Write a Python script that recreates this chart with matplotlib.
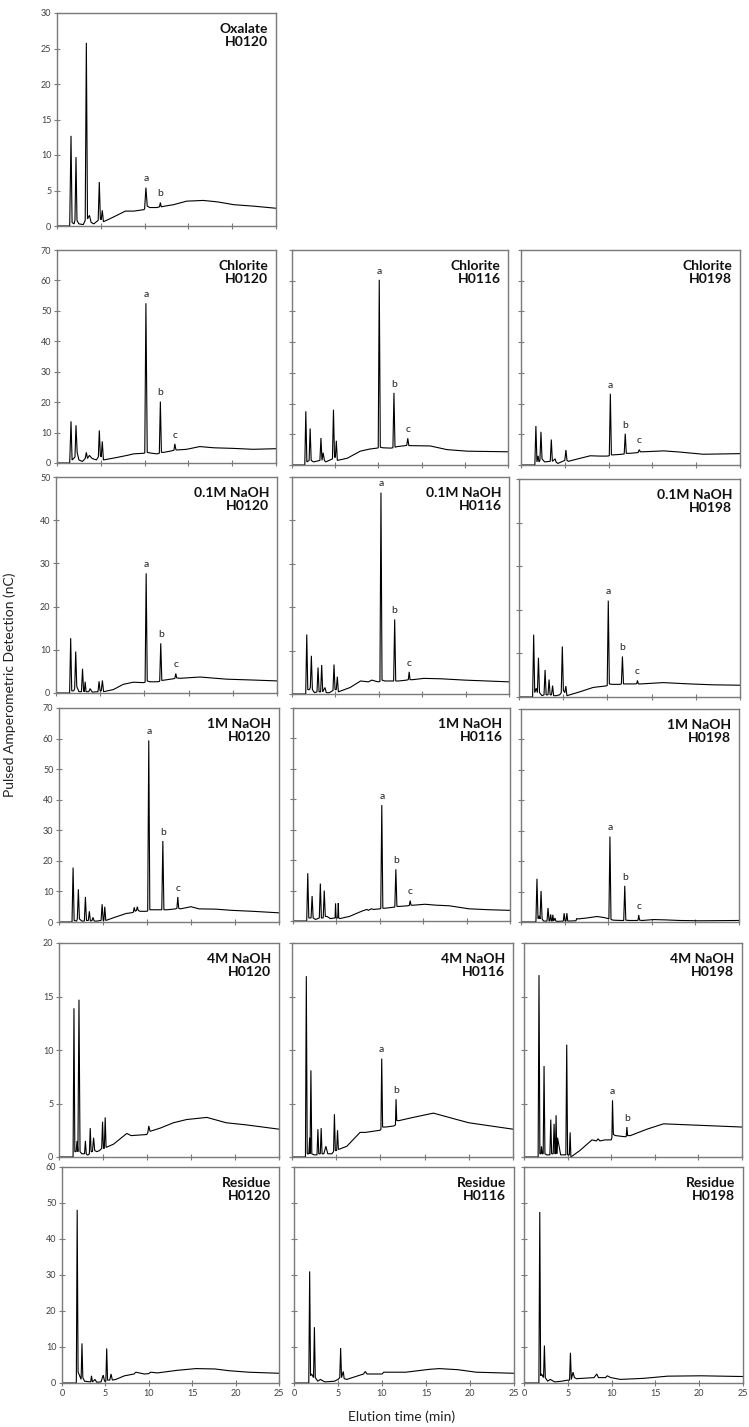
import matplotlib
matplotlib.use("Agg")
import matplotlib.pyplot as plt
import numpy as np

plt.rcParams['font.family'] = ['Lato', 'DejaVu Sans']

# ---------------- data (elution time, min / signal, nC) ----------------
ox_h0120_t = [0, 1.45, 1.6, 1.72, 1.95, 2.05, 2.17, 2.28, 2.5, 3.0, 3.22, 3.35, 3.48, 3.7, 3.9, 4.2, 4.7, 4.83, 4.95, 5.05,
              5.17, 5.3, 6.0, 7.0, 7.8, 8.8, 9.9, 10.0, 10.15, 10.3, 10.6, 11.4, 11.7, 11.8, 11.9, 12.3, 13.3, 14.8, 16.7, 18.3,
              20.2, 22.4, 25]
ox_h0120_y = [0, 0, 12.7, 0.5, 0.3, 0.8, 9.7, 0.8, 0.3, 0.2, 0.8, 25.8, 1.0, 1.5, 0.5, 0.3, 0.8, 6.2, 1.0, 0.9,
              2.2, 0.6, 1.0, 1.6, 2.1, 2.1, 2.3, 2.4, 5.4, 2.8, 2.6, 2.6, 2.7, 3.3, 2.7, 2.8, 3.0, 3.5, 3.6, 3.4,
              3.0, 2.8, 2.5]

cl_h0120_t = [0, 1.45, 1.6, 1.72, 1.9, 2.05, 2.17, 2.3, 2.5, 2.9, 3.22, 3.35, 3.48, 3.7, 4.0, 4.5, 4.72, 4.83, 4.95, 5.05,
              5.17, 5.3, 6.8, 8.0, 8.75, 9.9, 10.02, 10.15, 10.3, 10.6, 11.4, 11.68, 11.8, 11.92, 12.2, 13.1, 13.35, 13.45, 13.58, 13.8,
              14.8, 16.3, 17.9, 20.15, 22.4, 25]
cl_h0120_y = [0, 0, 13.7, 1.0, 1.5, 2.0, 12.4, 3.5, 1.0, 0.5, 1.5, 3.5, 1.5, 2.5, 1.5, 1.0, 2.0, 10.7, 2.5, 2.0,
              7.1, 1.0, 1.8, 2.5, 3.0, 3.2, 3.3, 52.5, 3.5, 3.3, 3.0, 3.2, 20.2, 3.5, 3.5, 4.0, 4.2, 6.3, 4.3, 4.3,
              4.5, 5.4, 5.0, 4.8, 4.5, 4.7]

cl_h0116_t = [0, 1.48, 1.6, 1.72, 1.98, 2.1, 2.22, 2.5, 3.23, 3.35, 3.47, 3.6, 3.75, 3.9, 4.3, 4.68, 4.8, 4.92, 5.02, 5.13,
              5.25, 6.4, 7.9, 9.0, 9.85, 9.98, 10.1, 10.22, 10.5, 11.4, 11.68, 11.8, 11.92, 12.2, 13.1, 13.28, 13.4, 13.52, 13.8, 16.0,
              17.95, 20.3, 25]
cl_h0116_y = [0, 0, 17.5, 1.0, 1.5, 11.9, 1.5, 1.0, 1.5, 8.8, 1.5, 4.0, 1.5, 1.0, 1.5, 2.0, 18.0, 2.5, 2.5, 7.9,
              1.5, 2.2, 4.5, 5.2, 5.5, 5.6, 60.3, 5.8, 5.6, 5.5, 5.6, 23.5, 5.8, 6.0, 6.3, 6.4, 8.7, 6.3, 6.3, 6.2,
              5.0, 4.5, 4.3]

cl_h0198_t = [0, 1.58, 1.7, 1.82, 1.95, 2.05, 2.16, 2.28, 2.4, 2.7, 3.34, 3.46, 3.58, 3.9, 4.0, 4.2, 4.6, 5.0, 5.13, 5.25,
              5.4, 6.5, 7.9, 9.0, 9.8, 10.08, 10.2, 10.32, 10.6, 11.5, 11.78, 11.9, 12.02, 12.4, 13.2, 13.38, 13.5, 13.62, 13.9, 16.3,
              18.2, 20.8, 25]
cl_h0198_y = [0, 0, 12.7, 1.0, 3.0, 1.0, 1.5, 10.8, 2.0, 1.0, 1.2, 8.3, 1.2, 2.0, 1.0, 0.5, 1.0, 1.5, 4.9, 1.5,
              1.2, 2.0, 3.0, 2.9, 2.9, 3.0, 23.2, 3.3, 3.3, 3.5, 3.6, 10.2, 3.8, 3.8, 4.0, 4.1, 5.0, 4.3, 4.3, 4.6,
              4.2, 3.5, 3.7]

n01_h0120_t = [0, 1.54, 1.66, 1.78, 2.0, 2.11, 2.23, 2.35, 2.6, 2.88, 3.0, 3.12, 3.2, 3.3, 3.4, 3.7, 3.86, 4.1, 4.75, 4.87,
               4.99, 5.12, 5.25, 5.38, 6.5, 7.6, 8.75, 9.9, 10.08, 10.2, 10.32, 10.6, 11.5, 11.73, 11.85, 11.97, 12.3, 13.3, 13.45, 13.55,
               13.65, 14.0, 16.3, 19.3, 22.3, 25]
n01_h0120_y = [0, 0, 12.7, 0.5, 0.5, 1.0, 9.6, 1.5, 0.3, 0.3, 5.6, 0.5, 0.3, 2.6, 0.3, 0.3, 1.0, 0.2, 0.3, 2.7,
               0.5, 0.5, 2.9, 0.3, 0.8, 2.0, 2.5, 2.4, 2.5, 27.7, 2.8, 2.6, 2.6, 2.7, 11.5, 2.9, 3.0, 3.3, 3.4, 4.5,
               3.5, 3.4, 3.7, 3.2, 3.0, 2.8]

n01_h0116_t = [0, 1.58, 1.7, 1.82, 2.0, 2.11, 2.23, 2.35, 2.6, 2.88, 3.0, 3.12, 3.3, 3.42, 3.54, 3.8, 3.95, 4.3, 4.72, 4.84,
               4.96, 5.1, 5.22, 5.34, 6.7, 7.9, 8.8, 9.2, 9.9, 10.13, 10.25, 10.37, 10.7, 11.5, 11.71, 11.83, 11.95, 12.3, 13.2, 13.4,
               13.5, 13.6, 13.9, 15.2, 17.2, 19.9, 25]
n01_h0116_y = [0, 0, 13.7, 1.0, 1.0, 1.5, 8.8, 1.0, 0.3, 0.5, 6.1, 0.5, 0.5, 6.7, 0.5, 1.5, 0.3, 0.3, 0.8, 6.8,
               1.0, 1.0, 4.0, 0.5, 1.5, 3.0, 2.8, 3.2, 2.8, 2.9, 46.4, 3.2, 3.0, 3.0, 3.0, 17.2, 3.0, 3.0, 3.2, 3.3,
               5.1, 3.3, 3.3, 3.6, 3.5, 3.2, 2.8]

n01_h0198_t = [0, 1.54, 1.66, 1.78, 1.95, 2.08, 2.2, 2.32, 2.6, 2.83, 2.95, 3.07, 3.28, 3.4, 3.52, 3.68, 3.8, 3.92, 4.2, 4.6,
               4.78, 4.9, 5.02, 5.18, 5.3, 5.42, 6.9, 8.4, 9.7, 9.98, 10.1, 10.22, 10.5, 11.4, 11.58, 11.7, 11.82, 12.2, 13.2, 13.32,
               13.4, 13.5, 13.8, 16.3, 19.3, 21.9, 25]
n01_h0198_y = [0, 0, 14.3, 1.0, 2.0, 1.0, 9.0, 1.0, 0.3, 0.5, 6.2, 0.5, 0.5, 4.0, 0.5, 0.5, 2.6, 0.3, 0.3, 0.5,
               1.0, 11.6, 1.5, 1.0, 2.5, 0.3, 1.2, 2.2, 2.5, 2.6, 22.1, 3.0, 2.9, 2.9, 3.0, 9.3, 3.0, 3.0, 3.0, 3.1,
               3.8, 3.0, 3.0, 3.3, 3.0, 2.8, 2.7]

n1_h0120_t = [0, 1.48, 1.6, 1.72, 2.0, 2.08, 2.2, 2.32, 2.6, 2.88, 3.0, 3.12, 3.33, 3.45, 3.57, 3.75, 3.86, 4.0, 4.3, 4.78,
              4.9, 5.02, 5.1, 5.2, 5.32, 6.3, 7.65, 8.2, 8.45, 8.55, 8.65, 8.8, 8.9, 9.0, 9.2, 9.9, 10.08, 10.2, 10.32, 10.6,
              11.5, 11.68, 11.8, 11.92, 12.3, 13.25, 13.4, 13.5, 13.6, 13.8, 15.0, 15.9, 17.8, 19.7, 22.0, 25]
n1_h0120_y = [0, 0, 17.8, 0.5, 0.3, 1.0, 10.7, 1.0, 0.3, 0.3, 8.2, 0.5, 0.5, 3.5, 0.3, 0.5, 1.5, 0.3, 0.3, 0.5,
              5.8, 0.5, 0.5, 5.0, 0.5, 1.5, 2.8, 3.0, 3.2, 4.8, 3.5, 3.8, 5.0, 3.8, 3.5, 3.5, 3.6, 59.4, 4.0, 4.0,
              4.0, 4.0, 26.5, 4.0, 4.0, 4.3, 4.5, 8.2, 4.5, 4.3, 5.0, 4.3, 4.2, 3.8, 3.5, 3.0]

n1_h0116_t = [0, 1.58, 1.7, 1.82, 2.08, 2.2, 2.32, 2.6, 3.03, 3.15, 3.27, 3.48, 3.6, 3.72, 3.9, 4.3, 4.85, 4.9, 4.97, 5.15,
              5.22, 5.27, 5.4, 6.5, 7.9, 8.5, 8.7, 9.0, 9.3, 10.0, 10.11, 10.23, 10.35, 10.6, 11.5, 11.73, 11.85, 11.97, 12.3, 13.2,
              13.4, 13.5, 13.6, 13.9, 15.2, 16.5, 18.0, 20.3, 22.6, 25]
n1_h0116_y = [0, 0, 15.7, 1.0, 1.0, 8.2, 1.0, 0.5, 1.0, 12.3, 1.0, 1.0, 10.0, 1.5, 1.5, 0.8, 1.0, 5.7, 1.0, 1.0,
              5.9, 1.0, 0.8, 1.5, 3.2, 3.8, 3.5, 4.0, 3.8, 4.0, 4.1, 38.1, 4.2, 4.2, 4.5, 4.6, 17.0, 4.8, 4.8, 5.0,
              5.1, 6.7, 5.2, 5.2, 5.5, 5.2, 5.0, 4.0, 3.7, 3.5]

n1_h0198_t = [0, 1.71, 1.83, 1.95, 2.1, 2.18, 2.3, 2.42, 2.6, 2.98, 3.1, 3.22, 3.3, 3.4, 3.5, 3.58, 3.65, 3.75, 3.9, 4.0,
              4.2, 4.85, 4.95, 5.05, 5.16, 5.26, 5.36, 6.3, 6.4, 6.5, 7.5, 8.7, 9.45, 9.9, 10.08, 10.2, 10.32, 10.6, 11.5, 11.78,
              11.9, 12.02, 12.4, 13.3, 13.42, 13.5, 13.6, 13.9, 15.2, 16.5, 18.2, 20.5, 25]
n1_h0198_y = [0, 0, 14.2, 1.0, 2.0, 1.0, 10.2, 1.0, 0.3, 0.3, 4.6, 0.3, 0.3, 2.5, 0.3, 0.3, 2.4, 0.3, 1.3, 0.3,
              0.2, 0.3, 2.9, 0.3, 0.3, 2.9, 0.3, 0.4, 1.2, 1.0, 1.3, 1.8, 1.5, 1.2, 1.0, 28.1, 0.8, 0.6, 0.5, 0.5,
              11.9, 0.6, 0.5, 0.5, 0.6, 2.3, 0.6, 0.5, 0.8, 0.7, 0.5, 0.4, 0.5]

n4_h0120_t = [0, 1.6, 1.7, 1.8, 1.95, 2.05, 2.15, 2.27, 2.39, 2.6, 2.9, 3.0, 3.1, 3.2, 3.3, 3.45, 3.55, 3.65, 3.8, 3.93,
              4.06, 4.3, 4.6, 4.85, 4.95, 5.05, 5.15, 5.25, 5.35, 6.2, 7.7, 8.2, 9.97, 10.1, 10.2, 10.35, 11.5, 13.0, 14.5, 16.8,
              19.0, 21.3, 25]
n4_h0120_y = [0, 0, 13.9, 0.5, 0.5, 1.5, 0.5, 14.7, 0.5, 0.3, 0.3, 1.5, 0.3, 0.2, 0.2, 0.3, 2.7, 0.5, 0.5, 1.8,
              0.6, 0.5, 0.6, 0.8, 3.3, 0.8, 0.8, 3.7, 0.9, 1.2, 2.2, 2.0, 2.1, 2.3, 2.9, 2.4, 2.7, 3.2, 3.5, 3.7,
              3.2, 3.0, 2.6]

n4_h0116_t = [0, 1.52, 1.62, 1.72, 1.9, 2.0, 2.04, 2.14, 2.24, 2.5, 2.83, 2.93, 3.03, 3.2, 3.3, 3.4, 3.6, 3.83, 4.05, 4.5,
              4.7, 4.8, 4.9, 5.05, 5.15, 5.25, 6.2, 7.7, 8.3, 9.96, 10.06, 10.15, 10.25, 10.6, 11.5, 11.7, 11.77, 11.85, 12.1, 13.7,
              16.0, 18.2, 20.0, 22.5, 25]
n4_h0116_y = [0, 0, 16.9, 0.3, 0.3, 1.8, 0.3, 8.1, 0.3, 0.2, 0.2, 2.6, 0.3, 0.3, 2.7, 0.3, 0.3, 1.0, 0.3, 0.3,
              0.5, 4.0, 0.6, 0.6, 2.5, 0.7, 1.0, 2.3, 2.3, 2.5, 2.6, 9.2, 2.8, 2.8, 2.9, 3.0, 5.4, 3.4, 3.4, 3.7,
              4.1, 3.6, 3.2, 2.9, 2.6]

n4_h0198_t = [0, 1.62, 1.72, 1.82, 1.95, 2.0, 2.1, 2.2, 2.3, 2.4, 2.6, 2.97, 3.07, 3.17, 3.35, 3.45, 3.55, 3.6, 3.68, 3.76,
              3.85, 4.2, 4.8, 4.9, 5.0, 5.2, 5.29, 5.38, 6.4, 7.8, 8.3, 8.5, 8.7, 9.3, 10.0, 10.08, 10.15, 10.25, 10.5, 11.5,
              11.72, 11.8, 11.88, 12.2, 14.1, 16.0, 19.0, 22.0, 25]
n4_h0198_y = [0, 0, 17.0, 0.3, 0.3, 1.0, 0.3, 0.3, 8.5, 0.3, 0.2, 0.2, 3.5, 0.3, 0.3, 3.1, 0.3, 0.3, 3.9, 0.3,
              1.8, 0.2, 0.2, 10.5, 0.2, 0.2, 2.3, 0, 0.6, 1.6, 1.5, 1.7, 1.5, 1.6, 1.6, 1.8, 5.3, 2.1, 2.0, 1.9,
              1.9, 2.8, 2.0, 2.0, 2.6, 3.1, 3.0, 2.9, 2.8]

res_h0120_t = [0, 1.65, 1.75, 1.85, 1.95, 2.2, 2.3, 2.4, 2.6, 3.3, 3.4, 3.5, 3.8, 4.0, 4.5, 4.75, 4.9, 5.05, 5.15, 5.25,
               5.5, 5.65, 5.8, 6.2, 7.2, 8.3, 8.5, 9.5, 10.0, 10.2, 11.0, 13.2, 15.4, 17.6, 19.3, 21.5, 25]
res_h0120_y = [0, 0, 48.1, 3.0, 2.5, 1.0, 11.0, 1.5, 0.5, 0.3, 2.0, 0.3, 1.0, 0.2, 0.3, 2.2, 0.5, 0.5, 9.6, 0.8,
               0.8, 2.5, 0.8, 1.0, 2.0, 2.5, 3.0, 2.5, 2.6, 3.0, 2.8, 3.5, 4.0, 3.9, 3.4, 3.0, 2.7]

res_h0116_t = [0, 1.68, 1.78, 1.88, 2.0, 2.22, 2.32, 2.42, 2.7, 3.0, 3.5, 4.6, 5.0, 5.2, 5.3, 5.4, 5.6, 5.7, 6.0, 7.9,
               8.1, 8.3, 10.0, 10.2, 12.7, 15.4, 16.5, 18.6, 20.7, 25]
res_h0116_y = [0, 0, 31.0, 2.0, 2.5, 1.5, 15.5, 1.5, 0.5, 1.0, 0.3, 0.5, 1.0, 1.5, 9.7, 1.5, 3.2, 1.2, 1.0, 2.5,
               3.2, 2.5, 2.5, 3.0, 3.0, 3.8, 4.0, 3.7, 3.0, 2.7]

res_h0198_t = [0, 1.7, 1.8, 1.9, 2.0, 2.23, 2.33, 2.43, 2.7, 3.0, 3.5, 4.3, 5.0, 5.2, 5.3, 5.4, 5.6, 5.75, 6.0, 8.0,
               8.3, 8.5, 9.3, 9.5, 9.9, 11.0, 13.7, 16.4, 20.2, 25]
res_h0198_y = [0, 0, 47.5, 2.0, 2.5, 1.5, 10.4, 1.5, 0.5, 1.0, 0.3, 0.5, 0.8, 0.8, 8.4, 1.0, 3.0, 1.5, 1.2, 1.5,
               2.5, 1.5, 1.5, 2.0, 1.5, 1.0, 1.3, 1.9, 2.0, 1.8]

treatments = ["Oxalate", "Chlorite", "0.1M NaOH", "1M NaOH", "4M NaOH", "Residue"]
samples = ["H0120", "H0116", "H0198"]
y_max = [30, 70, 50, 70, 20, 60]
y_step = [5, 10, 10, 10, 5, 10]
x_ticks = [0, 5, 10, 15, 20, 25]

# peak letters and the elution times of the marked peaks
lab_abc = ["a", "b", "c"]
peak_times = {
    (0, 0): [10.15, 11.8],
    (1, 0): [10.15, 11.8, 13.45], (1, 1): [10.1, 11.8, 13.4], (1, 2): [10.2, 11.9, 13.5],
    (2, 0): [10.2, 11.85, 13.55], (2, 1): [10.25, 11.83, 13.5], (2, 2): [10.1, 11.7, 13.4],
    (3, 0): [10.2, 11.8, 13.5], (3, 1): [10.23, 11.85, 13.5], (3, 2): [10.2, 11.9, 13.5],
    (4, 1): [10.15, 11.77], (4, 2): [10.15, 11.8],
}

series = {
    (0, 0): (ox_h0120_t, ox_h0120_y),
    (1, 0): (cl_h0120_t, cl_h0120_y), (1, 1): (cl_h0116_t, cl_h0116_y), (1, 2): (cl_h0198_t, cl_h0198_y),
    (2, 0): (n01_h0120_t, n01_h0120_y), (2, 1): (n01_h0116_t, n01_h0116_y), (2, 2): (n01_h0198_t, n01_h0198_y),
    (3, 0): (n1_h0120_t, n1_h0120_y), (3, 1): (n1_h0116_t, n1_h0116_y), (3, 2): (n1_h0198_t, n1_h0198_y),
    (4, 0): (n4_h0120_t, n4_h0120_y), (4, 1): (n4_h0116_t, n4_h0116_y), (4, 2): (n4_h0198_t, n4_h0198_y),
    (5, 0): (res_h0120_t, res_h0120_y), (5, 1): (res_h0116_t, res_h0116_y), (5, 2): (res_h0198_t, res_h0198_y),
}

# ---------------- layout (pixel boxes: left, top, right, bottom) ----------------
W, H = 749, 1427
boxes = {
    (0, 0): (57, 13, 276, 226),
    (1, 0): (57, 250, 276, 463), (1, 1): (292, 250, 508, 465), (1, 2): (521, 250, 740, 465),
    (2, 0): (56, 477, 277, 693), (2, 1): (292, 477, 509, 694), (2, 2): (519, 479, 740, 697),
    (3, 0): (59, 708, 279, 922), (3, 1): (293, 708, 510, 921), (3, 2): (521, 709, 739, 922),
    (4, 0): (59, 943, 279, 1157), (4, 1): (292, 943, 513, 1157), (4, 2): (524, 943, 742, 1157),
    (5, 0): (62, 1167, 279, 1383), (5, 1): (294, 1167, 514, 1383), (5, 2): (524, 1167, 743, 1383),
}

spine_c = "#7a7a7a"
tick_c = "#404040"

fig = plt.figure(figsize=(W / 100, H / 100), dpi=100)

for (r, c), (l, t, rr, b) in boxes.items():
    ax = fig.add_axes([l / W, 1 - b / H, (rr - l) / W, (b - t) / H])
    tt, yy = series[(r, c)]
    ax.plot(tt, yy, color="black", lw=0.8, solid_joinstyle="miter")
    ax.set_xlim(0, 25)
    ax.set_ylim(0, y_max[r])
    ax.set_xticks(x_ticks)
    ax.set_yticks(np.arange(0, y_max[r] + 0.1, y_step[r]))
    for s in ax.spines.values():
        s.set_color(spine_c)
        s.set_linewidth(1.0)
    ax.tick_params(direction="inout", length=5, width=0.8, color=spine_c,
                   labelsize=6.5, labelcolor=tick_c, pad=1.5)
    if c != 0:
        ax.set_yticklabels([])
    if r != 5:
        ax.set_xticklabels([])
    ax.text(0.965, 0.955, f"{treatments[r]}\n{samples[c]}", transform=ax.transAxes,
            ha="right", va="top", fontsize=10, fontweight="bold", linespacing=1.15, color="#111111")
    if (r, c) in peak_times:
        for lab, pt in zip(lab_abc, peak_times[(r, c)]):
            idx = int(np.argmin(np.abs(np.array(tt) - pt)))
            ax.annotate(lab, (tt[idx], yy[idx]), xytext=(0, 3), textcoords="offset points",
                        ha="center", va="bottom", fontsize=7.5, color="#222222")

fig.text(10 / W, 1 - 685 / H, "Pulsed Amperometric Detection (nC)", rotation=90,
         ha="center", va="center", fontsize=10, color="#222222")
fig.text(402 / W, 1 - 1417 / H, "Elution time (min)", ha="center", va="center",
         fontsize=10, color="#222222")

fig.savefig("out.png", dpi=100)
